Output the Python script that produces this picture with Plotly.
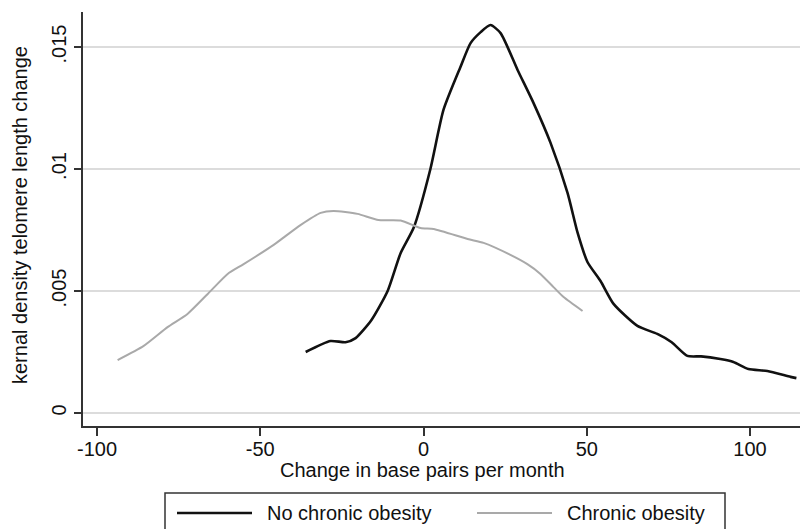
import plotly.graph_objects as go

# Data
no_obese_x = [-36.1, -28.5, -23.9, -20.8, -16.0, -11.0, -7.0, -3.0, 2.1, 6.1, 11.3, 14.4, 17.5, 20.5,
              23.6, 28.8, 33.7, 38.9, 44.1, 47.2, 50.2, 54.2, 58.2, 65.5, 71.6, 76.0, 80.8, 85.0, 90.9,
              94.9, 99.5, 105.3, 112.4, 114.2]
no_obese_y = [0.0025, 0.00295, 0.0029, 0.00307, 0.0038, 0.0050, 0.00656, 0.0076, 0.0100, 0.01242,
              0.01418, 0.01516, 0.01561, 0.0159, 0.01557, 0.01406, 0.0127, 0.01107, 0.00902, 0.00738,
              0.00619, 0.00541, 0.00447, 0.00357, 0.00324, 0.0029, 0.00234, 0.00232, 0.00221, 0.00209,
              0.0018, 0.00172, 0.00148, 0.00143]

obese_x = [-93.7, -85.7, -78.4, -72.3, -66.1, -60.0, -55.1, -45.9, -37.7, -31.5, -27.6, -20.2, -13.8,
           -7.0, -0.9, 3.1, 13.5, 18.4, 26.6, 31.8, 35.8, 39.8, 42.9, 48.7]
obese_y = [0.00217, 0.00275, 0.00352, 0.00406, 0.00488, 0.0057, 0.0061, 0.00689, 0.0077, 0.0082,
           0.00828, 0.00816, 0.00791, 0.00789, 0.00758, 0.00754, 0.00713, 0.00697, 0.00648, 0.0061,
           0.0057, 0.00516, 0.00475, 0.00418]

series_names = ["No chronic obesity", "Chronic obesity"]
y_tickvals = [0, 0.005, 0.01, 0.015]
y_ticktext = ["0", ".005", ".01", ".015"]
x_tickvals = [-100, -50, 0, 50, 100]
x_ticktext = ["-100", "-50", "0", "50", "100"]

FONT = "Liberation Sans, Arial, sans-serif"
FS = 20
BLACK = "#111111"
GRAY = "#a9a9a9"

fig = go.Figure()
fig.add_trace(go.Scatter(x=no_obese_x, y=no_obese_y, mode="lines", name=series_names[0],
                         line=dict(color=BLACK, width=2.6, shape="spline", smoothing=0.6)))
fig.add_trace(go.Scatter(x=obese_x, y=obese_y, mode="lines", name=series_names[1],
                         line=dict(color=GRAY, width=2.0, shape="spline", smoothing=0.6)))

W, H = 800, 529
L, R, T, B = 83, 0, 12, 103
pw, ph = W - L - R, H - T - B

def px_x(p):
    return (p - L) / pw

def px_y(p):
    return (H - B - p) / ph

txt = dict(family=FONT, size=FS, color="#111111")

shapes = [
    dict(type="rect", xref="paper", yref="paper", x0=px_x(165), x1=px_x(725), y0=px_y(545), y1=px_y(493),
         line=dict(color="#333333", width=1.5), fillcolor="rgba(0,0,0,0)"),
    dict(type="line", xref="paper", yref="paper", x0=px_x(177), x1=px_x(252), y0=px_y(513), y1=px_y(513),
         line=dict(color=BLACK, width=2.6)),
    dict(type="line", xref="paper", yref="paper", x0=px_x(477), x1=px_x(552), y0=px_y(513), y1=px_y(513),
         line=dict(color=GRAY, width=2.0)),
]
annotations = [
    dict(text=series_names[0], xref="paper", yref="paper", x=px_x(265), y=px_y(513), xanchor="left",
         yanchor="middle", showarrow=False, font=txt),
    dict(text=series_names[1], xref="paper", yref="paper", x=px_x(565), y=px_y(513), xanchor="left",
         yanchor="middle", showarrow=False, font=txt),
    dict(text="Change in base pairs per month", xref="paper", yref="paper", x=px_x(422), y=px_y(470),
         xanchor="center", yanchor="middle", showarrow=False, font=txt),
    dict(text="kernal density telomere length change", xref="paper", yref="paper", x=px_x(20), y=px_y(215),
         xanchor="center", yanchor="middle", textangle=-90, showarrow=False, font=txt),
]

fig.update_layout(
    width=W, height=H,
    margin=dict(l=L, r=R, t=T, b=B, pad=0, autoexpand=False),
    paper_bgcolor="white", plot_bgcolor="white",
    showlegend=False,
    font=txt,
    shapes=shapes, annotations=annotations,
    xaxis=dict(range=[-104.3, 115.3], tickvals=x_tickvals, ticktext=x_ticktext, showgrid=False,
               zeroline=False, showline=True, linecolor="#333333", linewidth=1.5, automargin=False,
               ticks="outside", ticklen=8, tickwidth=1.5, tickcolor="#333333", tickfont=txt,
               ticklabelstandoff=-4),
    yaxis=dict(range=[-0.000533, 0.016434], tickvals=y_tickvals, ticktext=y_ticktext, showgrid=True,
               gridcolor="#dcdcdc", gridwidth=1.5, zeroline=False, showline=True, linecolor="#333333",
               linewidth=1.5, ticks="outside", ticklen=7, tickwidth=1.5, tickcolor="#333333",
               automargin=False, tickangle=-90, tickfont=txt),
)

fig.write_html("out.html", config={"displayModeBar": False},
               post_script="document.body.style.margin='0';document.body.style.overflow='hidden';")
